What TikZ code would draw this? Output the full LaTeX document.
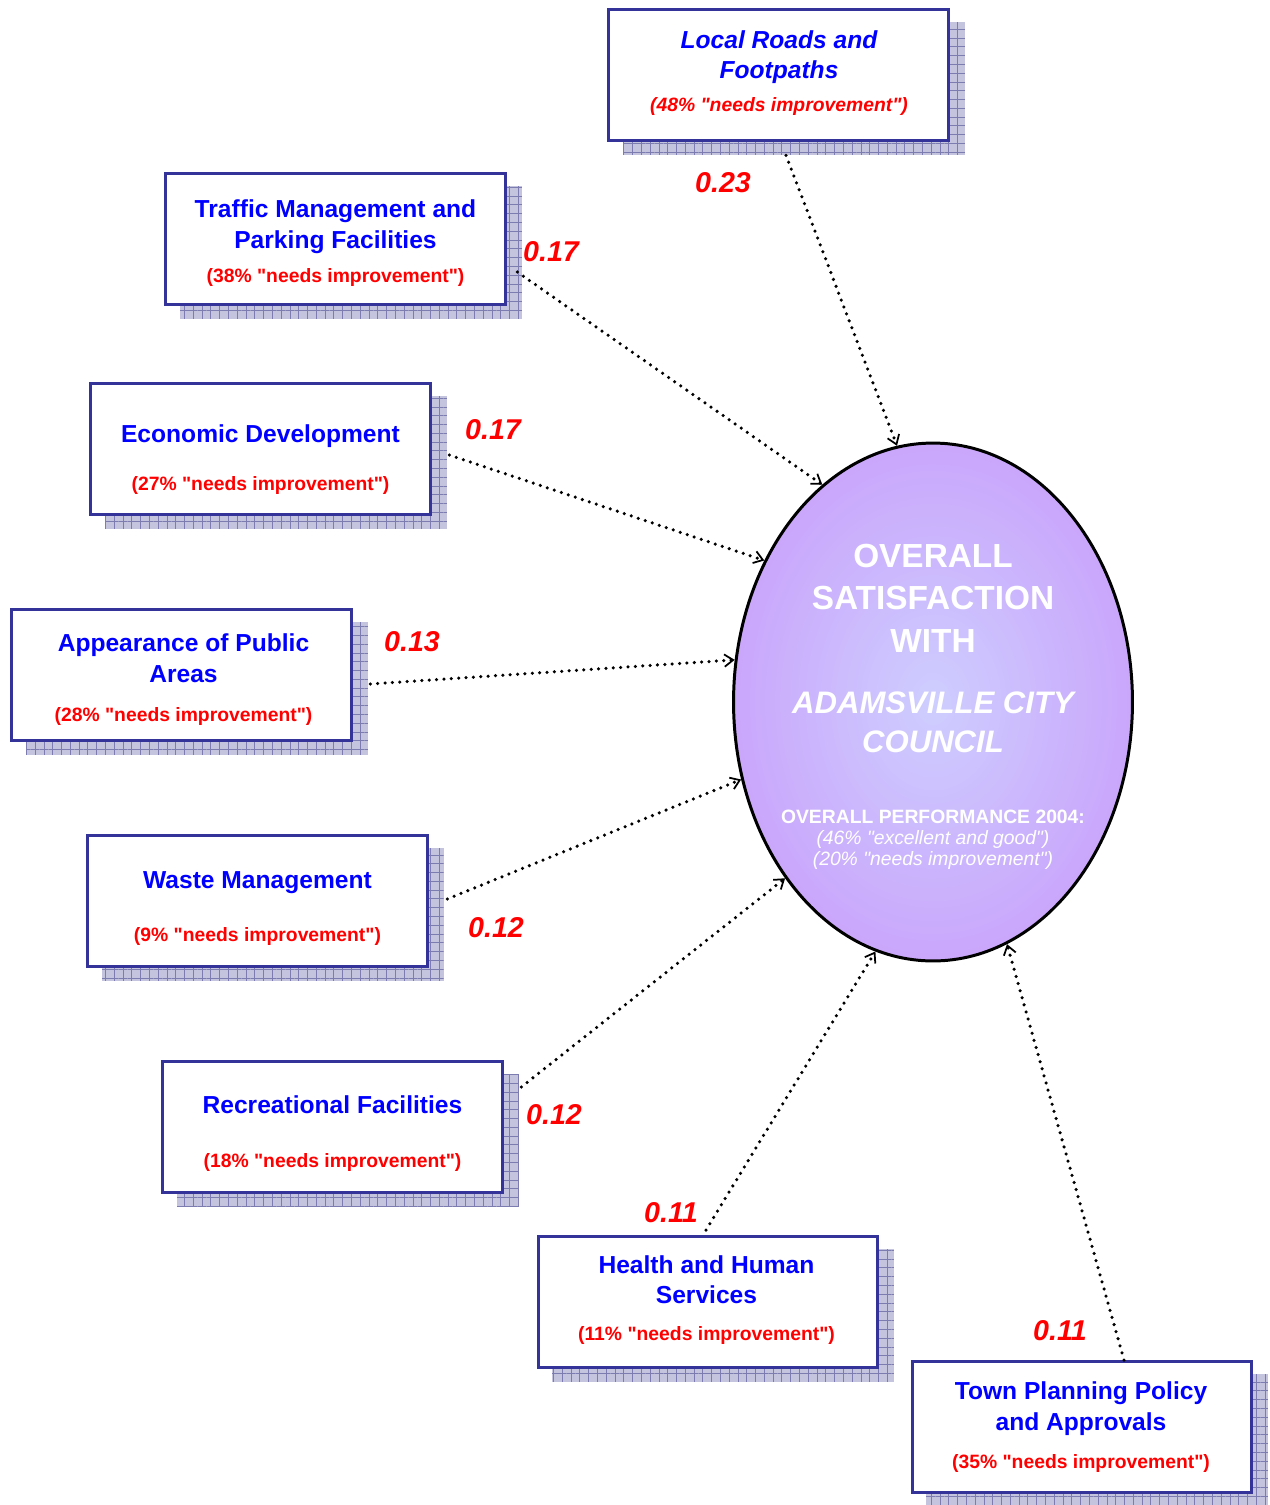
\documentclass[tikz,border=0pt]{standalone}
\usepackage{fontspec}
\setmainfont{Liberation Sans}[Ligatures=TeXOff]
\usepackage{xcolor}
\usetikzlibrary{arrows.meta,calc,shapes.geometric,patterns.meta,backgrounds}
\definecolor{boxline}{RGB}{51,51,153}
\definecolor{shadebg}{RGB}{196,196,222}
\definecolor{shadegrid}{RGB}{124,124,176}
\definecolor{satin}{RGB}{206,206,255}
\definecolor{satout}{RGB}{200,152,250}
\definecolor{ttblue}{RGB}{0,0,255}
\definecolor{ttred}{RGB}{255,0,0}
\pgfdeclareradialshading{satshade}{\pgfpoint{0bp}{0bp}}{color(0bp)=(satin); color(34bp)=(satout); color(50bp)=(satout)}
\newcommand{\needs}[1]{{\fontsize{11}{13}\selectfont\color{ttred}(#1\% "needs improvement")}}
\tikzset{
  cat/.style    = {draw=boxline, fill=white, line width=1.7pt, minimum width=6.8cm,
                   minimum height=2.62cm, inner sep=0pt},
  cattext/.style= {inner sep=0pt, align=center, text=ttblue,
                   font=\fontsize{14}{17.6}\selectfont\bfseries},
  catshadow/.style = {draw=white, line width=0.4pt, preaction={fill=shadebg},
                   pattern={Hatch[angle=0,distance=5pt,line width=0.4pt]},
                   pattern color=shadegrid, minimum width=6.86cm, minimum height=2.68cm,
                   inner sep=0pt},
  sat/.style    = {ellipse, draw=black, line width=1.7pt, shading=satshade,
                   minimum width=7.98cm, minimum height=10.36cm, inner sep=0pt},
  sattext/.style= {inner sep=0pt, align=center, text=white,
                   font=\fontsize{19}{24.2}\selectfont\bfseries},
  wgt/.style    = {text=ttred, inner sep=0pt, font=\fontsize{16.3}{18}\selectfont\bfseries\itshape},
  link/.style   = {line width=2pt, line cap=round, dash pattern=on 0pt off 4.2pt,
                   -{Straight Barb[length=5pt,width=7pt,line width=1pt]}},
}
\begin{document}
\begin{tikzpicture}[x=0.02cm, y=-0.02cm]
\useasboundingbox (0,0) rectangle (1270,1505);

% ---------------- the overall satisfaction ---------------------------
\node[sat] (sat) at (933,702) {};
\node[sattext] (sat-t) at (933,706.5)
  {OVERALL\\SATISFACTION\\WITH\\[10.5pt]
   \fontsize{17.7}{22}\selectfont\itshape ADAMSVILLE CITY\\[-2pt]
   \fontsize{17.7}{22}\selectfont\itshape COUNCIL\\[16.2pt]
   \fontsize{11}{13}\selectfont OVERALL PERFORMANCE 2004:\\[-12.2pt]
   \fontsize{11}{13}\selectfont\mdseries\itshape (46\% "excellent and good")\\[-12.2pt]
   \fontsize{11}{13}\selectfont\mdseries\itshape (20\% "needs improvement")};

% ---------------- the service areas ----------------------------------
\node[cat] (roads) at (778.5,75) {};
\node[cattext] (roads-t) at (779,73)
  {\itshape Local Roads and\\\itshape Footpaths\\[1.1pt]\itshape\needs{48}};

\node[cat] (traffic) at (335.5,239) {};
\node[cattext] (traffic-t) at (335.5,243)
  {Traffic Management and\\Parking Facilities\\[1.8pt]\needs{38}};

\node[cat] (econ) at (260.5,449) {};
\node[cattext] (econ-t) at (260.5,460)
  {Economic Development\\[9.7pt]\needs{27}};

\node[cat] (appear) at (181.5,675) {};
\node[cattext] (appear-t) at (183.5,680)
  {Appearance of Public\\Areas\\[4.6pt]\needs{28}};

\node[cat] (waste) at (257.5,901) {};
\node[cattext] (waste-t) at (257.5,908.5)
  {Waste Management\\[12.4pt]\needs{9}};

\node[cat] (recre) at (332.5,1127) {};
\node[cattext] (recre-t) at (332.5,1133.5)
  {Recreational Facilities\\[13.6pt]\needs{18}};

\node[cat] (health) at (708,1302) {};
\node[cattext] (health-t) at (706.5,1300)
  {Health and Human\\Services\\[3.4pt]\needs{11}};

\node[cat] (town) at (1082,1427) {};
\node[cattext] (town-t) at (1081,1427)
  {Town Planning Policy\\and Approvals\\[4.4pt]\needs{35}};

\begin{scope}[on background layer]
  \foreach \n in {roads,traffic,econ,appear,waste,recre,health,town}
    \node[catshadow] (\n-sh) at ($(\n.center)+(15,13)$) {};
\end{scope}

% ---------------- weights --------------------------------------------
\node[wgt] (roads-w)   at (723,183)  {0.23};
\node[wgt] (traffic-w) at (551,252)  {0.17};
\node[wgt] (econ-w)    at (493,430)  {0.17};
\node[wgt] (appear-w)  at (412,642)  {0.13};
\node[wgt] (waste-w)   at (496,928)  {0.12};
\node[wgt] (recre-w)   at (554,1115) {0.12};
\node[wgt] (health-w)  at (671,1213) {0.11};
\node[wgt] (town-w)    at (1060,1331) {0.11};

\foreach \n/\a/\dx/\dy/\ang in {roads-sh/south/-7.5/0/98.8, traffic-sh/east/-5/20/117,
    econ-sh/east/2/-7/140, appear-sh/east/2/-4/168, waste-sh/east/3/-15/202.3,
    recre-sh/east/2/-53/230.9, health/north/-2/-5/257.4, town/north/42/0/287.7}
  \draw[link] ($(\n.\a)+(\dx,\dy)$) -- (sat.\ang);

\end{tikzpicture}
\end{document}
